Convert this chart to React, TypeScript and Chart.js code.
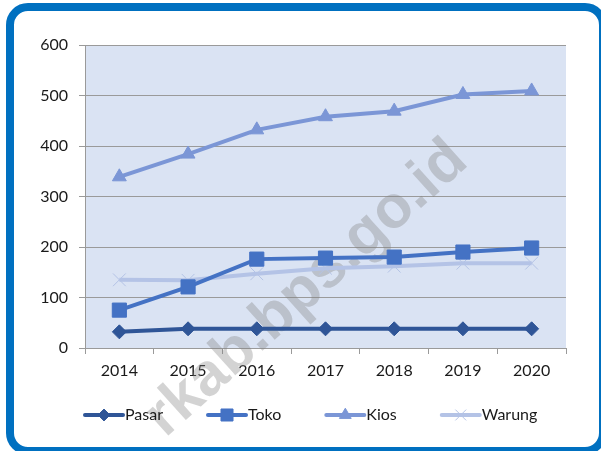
import React, { useEffect, useRef } from "react";
import { Chart, registerables } from "chart.js";
import { drawPoint } from "chart.js/helpers";

Chart.register(...registerables);

const years = ["2014", "2015", "2016", "2017", "2018", "2019", "2020"];
const pasar = [32, 38, 38, 38, 38, 38, 38];
const toko = [75, 121, 176, 178, 180, 190, 198];
const kios = [339, 384, 432, 458, 469, 502, 509];
const warung = [135, 134, 147, 158, 162, 168, 168];
const yMin = 0;
const yMax = 600;
const yStep = 100;
const watermark = "rkab.bps.go.id";

const FONT = "Lato, 'Open Sans', sans-serif";
const TEXT = "#1a1a1a";
const GRID = "#9a9a9a";

const bgPlugin = {
  id: "plotBg",
  beforeDraw(chart: any) {
    const { ctx, chartArea: a } = chart;
    ctx.save();
    ctx.fillStyle = "#DAE3F3";
    ctx.fillRect(a.left, a.top, a.right - a.left, a.bottom - a.top);
    ctx.restore();
  },
};

const watermarkPlugin = {
  id: "watermark",
  beforeDatasetsDraw(chart: any) {
    const ctx = chart.ctx;
    ctx.save();
    ctx.translate(470, 164);
    ctx.rotate((-42 * Math.PI) / 180);
    ctx.font = "bold 60px 'Liberation Sans', Arial, sans-serif";
    ctx.textAlign = "right";
    ctx.textBaseline = "alphabetic";
    ctx.fillStyle = "rgba(128,128,128,0.35)";
    ctx.fillText(watermark, 0, 0);
    ctx.restore();
  },
};

const legendPlugin = {
  id: "lineLegend",
  afterDraw(chart: any) {
    const ctx = chart.ctx;
    const y = chart.chartArea.bottom + 67;
    let x = chart.chartArea.left;
    ctx.save();
    ctx.font = "16px " + FONT;
    ctx.textBaseline = "middle";
    ctx.textAlign = "left";
    chart.data.datasets.forEach((ds: any) => {
      ctx.strokeStyle = ds.borderColor;
      ctx.lineWidth = ds.borderWidth;
      ctx.lineCap = "round";
      ctx.beginPath();
      ctx.moveTo(x, y);
      ctx.lineTo(x + 38, y);
      ctx.stroke();
      ctx.fillStyle = ds.pointBackgroundColor;
      ctx.strokeStyle = ds.pointBorderColor;
      ctx.lineWidth = ds.pointBorderWidth;
      ctx.lineCap = "butt";
      drawPoint(
        ctx,
        { pointStyle: ds.pointStyle, radius: ds.pointRadius * 0.85, borderWidth: ds.pointBorderWidth, rotation: 0 },
        x + 19,
        y
      );
      ctx.fillStyle = TEXT;
      ctx.fillText(ds.label, x + 40, y);
      const w = ctx.measureText(ds.label).width;
      x += 40 + w + 45;
    });
    ctx.restore();
  },
};

export default function App() {
  const ref = useRef<HTMLCanvasElement>(null);

  useEffect(() => {
    if (!ref.current) return;
    const mk = (label: string, data: number[], color: string, style: string, radius: number, pbw: number) => ({
      label,
      data,
      borderColor: color,
      backgroundColor: color,
      borderWidth: 4,
      pointStyle: style,
      pointRadius: radius,
      pointHoverRadius: radius,
      pointBackgroundColor: color,
      pointBorderColor: color,
      pointBorderWidth: pbw,
      tension: 0,
    });
    const chart = new Chart(ref.current, {
      type: "line",
      data: {
        labels: years,
        datasets: [
          mk("Pasar", pasar, "#2F5597", "rectRot", 7, 1),
          mk("Toko", toko, "#4472C4", "rect", 10, 1),
          mk("Kios", kios, "#7B96D6", "triangle", 8, 1),
          mk("Warung", warung, "#B4C3E6", "crossRot", 9, 1),
        ] as any,
      },
      options: {
        animation: false,
        responsive: false,
        events: [],
        layout: { padding: { left: 0, right: 35, top: 45, bottom: 63 } },
        plugins: { legend: { display: false }, tooltip: { enabled: false } },
        scales: {
          x: {
            offset: true,
            afterFit: (s: any) => {
              s.height = 40;
            },
            grid: {
              offset: true,
              drawOnChartArea: false,
              drawTicks: true,
              tickLength: 6,
              color: GRID,
            },
            border: { display: true, color: GRID },
            ticks: { color: TEXT, font: { family: FONT, size: 16 }, padding: 7, maxRotation: 0 },
          },
          y: {
            min: yMin,
            max: yMax,
            afterFit: (s: any) => {
              s.width = 85;
            },
            grid: { color: GRID, tickLength: 6, drawTicks: true },
            border: { display: true, color: GRID },
            ticks: { stepSize: yStep, color: TEXT, font: { family: FONT, size: 16 }, padding: 11 },
          },
        },
      },
      plugins: [bgPlugin, watermarkPlugin, legendPlugin],
    });
    return () => chart.destroy();
  }, []);

  return (
    <div style={{ position: "fixed", left: 0, top: 0, width: 601, height: 451, overflow: "hidden", background: "#fff" }}>
      <canvas ref={ref} width={601} height={451} style={{ position: "absolute", left: 0, top: 0, width: 601, height: 451 }} />
      <div
        style={{
          position: "absolute",
          left: 6,
          top: 3,
          width: 601,
          height: 452,
          border: "8px solid #0070C0",
          borderRadius: 22,
          boxSizing: "border-box",
          pointerEvents: "none",
        }}
      />
    </div>
  );
}
